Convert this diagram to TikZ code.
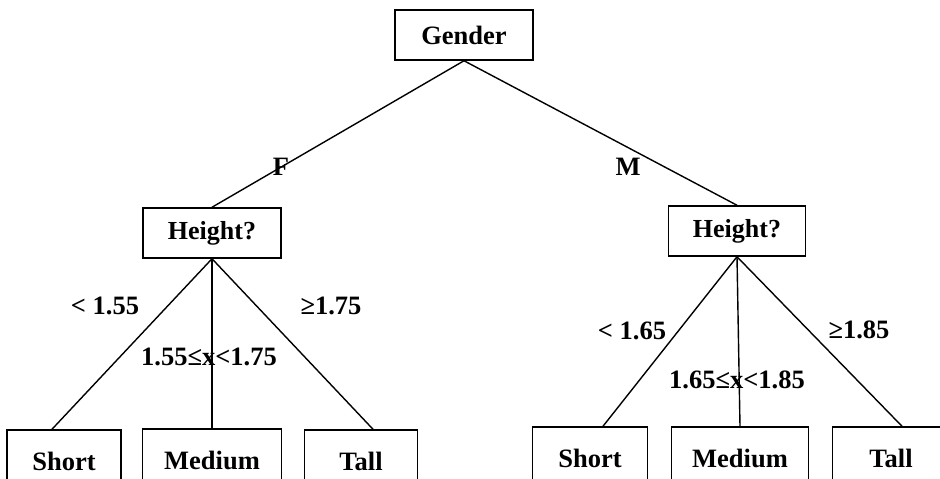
\documentclass[tikz,border=0pt]{standalone}
\usepackage{fontspec}
\setmainfont{Liberation Serif}
\begin{document}
\begin{tikzpicture}[x=1pt,y=-1pt,
  box/.style={draw,line width=1.5pt,inner sep=0pt,font=\fontsize{26.5}{30}\bfseries\selectfont},
  lbl/.style={inner sep=0pt,font=\fontsize{26.5}{30}\bfseries\selectfont},
  edge/.style={line width=1.4pt}]
\useasboundingbox (0,0) rectangle (940,479);
\clip (0,0) rectangle (940,479);
\node[box,minimum width=138pt,minimum height=50pt] (g) at (464,35) {Gender};
\node[box,minimum width=138pt,minimum height=50pt,font=\fontsize{26}{30}\bfseries\selectfont] (hl) at (212,233) {Height?};
\node[box,minimum width=137pt,minimum height=50pt,font=\fontsize{26}{30}\bfseries\selectfont] (hr) at (737,231) {Height?};
\node[box,minimum width=114pt,minimum height=62pt] (ls) at (64,461) {Short};
\node[box,minimum width=139pt,minimum height=62pt] (lm) at (212,460) {Medium};
\node[box,minimum width=113pt,minimum height=62pt] (lt) at (361,461) {Tall};
\node[box,minimum width=115pt,minimum height=62pt] (rs) at (590,458) {Short};
\node[box,minimum width=137pt,minimum height=62pt] (rm) at (740,458) {Medium};
\node[box,minimum width=117pt,minimum height=62pt] (rt) at (891,458) {Tall};
\draw[edge] (g.south) -- (hl.north);
\draw[edge] (g.south) -- (hr.north);
\draw[edge] (hl.south) -- ([xshift=-12pt]ls.north);
\draw[edge] (hl.south) -- (lm.north);
\draw[edge] (hl.south) -- ([xshift=12pt]lt.north);
\draw[edge] (hr.south) -- ([xshift=13pt]rs.north);
\draw[edge] (hr.south) -- (rm.north);
\draw[edge] (hr.south) -- ([xshift=11pt]rt.north);
\node[lbl] (f) at (281,167) {F};
\node[lbl] (m) at (628,167) {M};
\node[lbl] (a1) at (105,306) {< 1.55};
\node[lbl] (a2) at (209,357) {1.55≤x<1.75};
\node[lbl] (a3) at (331,306) {≥1.75};
\node[lbl] (b1) at (632,331) {< 1.65};
\node[lbl] (b2) at (737,380) {1.65≤x<1.85};
\node[lbl] (b3) at (859,330) {≥1.85};
\end{tikzpicture}
\end{document}
